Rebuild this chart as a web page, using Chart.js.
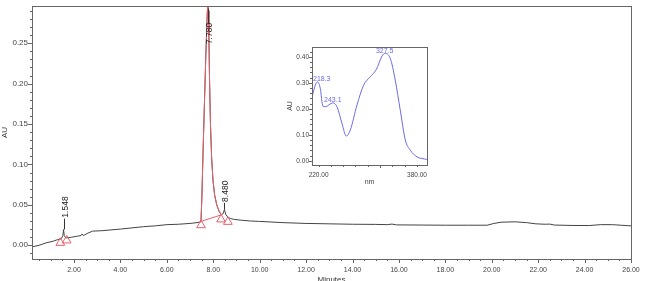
<!DOCTYPE html>
<html>
<head>
<meta charset="utf-8">
<script src="https://cdn.jsdelivr.net/npm/chart.js@4/dist/chart.umd.min.js"></script>
<style>
  body { margin: 0; background: #fff; }
  #wrap { position: relative; width: 646px; height: 281px; overflow: hidden; }
  #mainChart { position: absolute; left: 0; top: 0; }
  #insetChart { position: absolute; left: 280px; top: 40px; }
</style>
</head>
<body>
<div id="wrap">
  <canvas id="mainChart" width="646" height="281"></canvas>
  <canvas id="insetChart" width="160" height="150"></canvas>
</div>
<script>
// chromatogram (minutes, AU)
const timeMin = [0.19, 0.5, 0.8, 1.1, 1.3, 1.45, 1.52, 1.548, 1.58, 1.65, 1.9, 2.1, 2.3, 2.35, 2.4, 2.6, 2.8,
  3.2, 3.6, 4.0, 4.5, 5.0, 5.5, 6.0, 6.5, 7.0, 7.3, 7.47, 7.51, 7.56, 7.62, 7.68, 7.73, 7.77, 7.79, 7.81,
  7.84, 7.88, 7.93, 7.99, 8.06, 8.15, 8.25, 8.34, 8.42, 8.48, 8.54, 8.62, 8.75, 8.9, 9.2, 9.6, 10.0,
  11.0, 12.0, 13.0, 14.0, 15.0, 15.5, 15.7, 15.9, 17.0, 18.0, 19.0, 19.8, 20.1, 20.4, 21.0, 21.5, 21.9,
  22.3, 22.5, 22.7, 23.5, 24.2, 24.7, 25.2, 25.6, 26.0];
const absorb = [-0.002, 0.000, 0.003, 0.005, 0.007, 0.008, 0.012, 0.0195, 0.012, 0.009, 0.010, 0.011, 0.012, 0.014, 0.012, 0.015, 0.0175,
  0.018, 0.019, 0.020, 0.0215, 0.023, 0.024, 0.0255, 0.026, 0.027, 0.028, 0.029, 0.06, 0.115, 0.175, 0.235, 0.278, 0.305, 0.29, 0.262,
  0.205, 0.15, 0.108, 0.08, 0.062, 0.05, 0.042, 0.038, 0.039, 0.044, 0.038, 0.035, 0.033, 0.032, 0.031, 0.030, 0.0295,
  0.028, 0.027, 0.0265, 0.026, 0.0258, 0.0255, 0.0262, 0.0252, 0.025, 0.0248, 0.0248, 0.0248, 0.027, 0.0285, 0.029, 0.028, 0.0265,
  0.026, 0.0262, 0.025, 0.0245, 0.0244, 0.0255, 0.0255, 0.0247, 0.024];

// integrated main peak range
const redFrom = 7.47;
const redTo = 8.42;

// baseline markers (triangles)
const markTime = [1.41, 1.685, 7.474, 8.336, 8.63];
const markAbs = [0.003, 0.006, 0.0248, 0.032, 0.029];
const baseTime = [7.474, 8.336];
const baseAbs = [0.0296, 0.0375];

// peak retention labels: tick line from lineFrom to lineTo, text starts at textAbs and runs upward
const peakLabels = ['1.548', '7.780', '8.480'];
const peakTimes = [1.548, 7.77, 8.46];
const lineFromAbs = [0.0195, 0.2927, 0.044];
const lineToAbs = [0.0329, 0.2744, 0.0524];
const textAbs = [0.0329, 0.2476, 0.0524];

// UV spectrum (nm, AU)
const waveNm = [210.2, 214.6, 218.3, 222.8, 227, 231, 243.1, 249.9, 258, 265, 271.5, 282.4, 293.2, 304, 313.8, 323.1,
  327.5, 336.6, 344.7, 352.8, 361, 369, 380, 396];
const specAu = [0.253, 0.291, 0.304, 0.278, 0.210, 0.208, 0.223, 0.208, 0.144, 0.095, 0.118, 0.214, 0.291, 0.323, 0.351, 0.403,
  0.413, 0.394, 0.31, 0.195, 0.08, 0.041, 0.015, 0.005];
const specLabels = ['218.3', '243.1', '327.5'];
const specPeakNm = [218.3, 243.1, 327.5];
const specPeakAu = [0.304, 0.223, 0.413];

const fontFam = "'Liberation Sans', Arial, sans-serif";
Chart.defaults.font.family = fontFam;
Chart.defaults.color = '#444';

const axisGray = '#666';
const traceGray = '#444';
const peakRed = '#e8606a';
const specBlue = '#6b6be6';

function pts(xs, ys) {
  return xs.map((x, i) => ({ x: x, y: ys[i] }));
}

function range(from, to, step) {
  const out = [];
  for (let v = from; v <= to + step / 1000; v += step) out.push(Math.round(v * 1000) / 1000);
  return out;
}

function isMajor(v, major) {
  const r = v / major;
  return Math.abs(r - Math.round(r)) < 1e-6;
}

// frame round the plot area and major / minor tick marks
const frameTicks = {
  id: 'frameTicks',
  afterDraw(chart, args, opts) {
    const { ctx, chartArea: a, scales } = chart;
    ctx.save();
    ctx.strokeStyle = opts.color;
    ctx.lineWidth = 1;
    ctx.strokeRect(Math.round(a.left) + 0.5, Math.round(a.top) + 0.5,
      Math.round(a.right - a.left), Math.round(a.bottom - a.top));
    ctx.beginPath();
    opts.xTicks.forEach((v) => {
      const px = Math.round(scales.x.getPixelForValue(v)) + 0.5;
      const len = isMajor(v, opts.xMajor) ? opts.majorLen : opts.minorLen;
      ctx.moveTo(px, Math.round(a.bottom));
      ctx.lineTo(px, Math.round(a.bottom) + len);
    });
    opts.yTicks.forEach((v) => {
      const py = Math.round(scales.y.getPixelForValue(v)) + 0.5;
      const len = isMajor(v, opts.yMajor) ? opts.majorLen : opts.minorLen;
      ctx.moveTo(Math.round(a.left), py);
      ctx.lineTo(Math.round(a.left) - len, py);
    });
    ctx.stroke();
    ctx.restore();
  },
};

// vertical retention time labels
const peakText = {
  id: 'peakText',
  afterDatasetsDraw(chart) {
    const { ctx, scales } = chart;
    ctx.save();
    ctx.strokeStyle = '#333';
    ctx.fillStyle = '#222';
    ctx.lineWidth = 1;
    ctx.font = '8.5px ' + fontFam;
    peakLabels.forEach((txt, i) => {
      const x = Math.round(scales.x.getPixelForValue(peakTimes[i])) + 0.5;
      ctx.beginPath();
      ctx.moveTo(x, scales.y.getPixelForValue(lineFromAbs[i]));
      ctx.lineTo(x, scales.y.getPixelForValue(lineToAbs[i]));
      ctx.stroke();
      ctx.save();
      ctx.translate(x + 1, scales.y.getPixelForValue(textAbs[i]) - 1);
      ctx.rotate(-Math.PI / 2);
      ctx.textAlign = 'left';
      ctx.textBaseline = 'middle';
      ctx.fillText(txt, 0, 0);
      ctx.restore();
    });
    ctx.restore();
  },
};

const specText = {
  id: 'specText',
  afterDatasetsDraw(chart) {
    const { ctx, scales, chartArea } = chart;
    ctx.save();
    ctx.fillStyle = specBlue;
    ctx.font = '7px ' + fontFam;
    ctx.textAlign = 'left';
    ctx.textBaseline = 'bottom';
    specLabels.forEach((txt, i) => {
      const w = ctx.measureText(txt).width;
      const x = Math.max(scales.x.getPixelForValue(specPeakNm[i]) - w / 2, chartArea.left + 1);
      const y = scales.y.getPixelForValue(specPeakAu[i]);
      ctx.fillText(txt, x, y + 1);
    });
    ctx.restore();
  },
};

const redT = timeMin.filter((t) => t >= redFrom && t <= redTo);
const redA = absorb.filter((v, i) => timeMin[i] >= redFrom && timeMin[i] <= redTo);

new Chart(document.getElementById('mainChart'), {
  type: 'scatter',
  data: {
    datasets: [
      { data: pts(timeMin, absorb), showLine: true, borderColor: traceGray, borderWidth: 1, pointRadius: 0, order: 3 },
      { data: pts(redT, redA), showLine: true, borderColor: peakRed, borderWidth: 1, pointRadius: 0, order: 2 },
      { data: pts(baseTime, baseAbs), showLine: true, borderColor: peakRed, borderWidth: 1, pointRadius: 0, order: 1 },
      {
        data: pts(markTime, markAbs), showLine: false, pointStyle: 'triangle', pointRadius: 5,
        borderColor: peakRed, backgroundColor: 'rgba(0,0,0,0)', borderWidth: 1, order: 0,
      },
    ],
  },
  options: {
    responsive: false,
    animation: false,
    layout: { padding: { top: 2, right: 15, left: 0, bottom: 0 } },
    plugins: {
      legend: { display: false },
      tooltip: { enabled: false },
      frameTicks: {
        color: axisGray, majorLen: 4, minorLen: 2,
        xTicks: range(0.5, 26, 0.5), xMajor: 2,
        yTicks: range(-0.01, 0.29, 0.01), yMajor: 0.05,
      },
    },
    scales: {
      x: {
        type: 'linear', min: 0.19, max: 26.0,
        afterFit: (s) => { s.height = 22; },
        border: { display: false },
        grid: { display: true, drawOnChartArea: false, tickLength: 4, tickColor: 'rgba(0,0,0,0)' },
        ticks: {
          stepSize: 2, includeBounds: false, autoSkip: false, maxRotation: 0, padding: 3,
          font: { size: 7 }, color: '#444',
          callback: (v) => (isMajor(v, 2) ? v.toFixed(2) : ''),
        },
        title: { display: true, text: 'Minutes', font: { size: 8 }, color: '#333', padding: { top: 0, bottom: -3.5 } },
      },
      y: {
        type: 'linear', min: -0.017, max: 0.296,
        afterFit: (s) => { s.width = 32; },
        border: { display: false },
        grid: { display: true, drawOnChartArea: false, tickLength: 4, tickColor: 'rgba(0,0,0,0)' },
        ticks: {
          stepSize: 0.05, includeBounds: false, autoSkip: false, padding: 0,
          font: { size: 8 }, color: '#444',
          callback: (v) => (isMajor(v, 0.05) ? v.toFixed(2) : ''),
        },
        title: { display: true, text: 'AU', font: { size: 8 }, color: '#333', padding: { top: 0, bottom: 0 } },
      },
    },
  },
  plugins: [frameTicks, peakText],
});

new Chart(document.getElementById('insetChart'), {
  type: 'scatter',
  data: {
    datasets: [
      {
        data: pts(waveNm, specAu), showLine: true, borderColor: specBlue, borderWidth: 1,
        pointRadius: 0, cubicInterpolationMode: 'monotone',
      },
    ],
  },
  options: {
    responsive: false,
    animation: false,
    layout: { padding: { top: 7, right: 13, left: 0, bottom: 0 } },
    plugins: {
      legend: { display: false },
      tooltip: { enabled: false },
      frameTicks: {
        color: axisGray, majorLen: 3, minorLen: 2,
        xTicks: range(220, 380, 20), xMajor: 160,
        yTicks: range(0, 0.42, 0.02), yMajor: 0.1,
      },
    },
    scales: {
      x: {
        type: 'linear', min: 209.3, max: 396.3,
        afterFit: (s) => { s.height = 25; },
        afterBuildTicks: (s) => { s.ticks = [{ value: 220 }, { value: 380 }]; },
        border: { display: false },
        grid: { display: true, drawOnChartArea: false, tickLength: 3, tickColor: 'rgba(0,0,0,0)' },
        ticks: {
          autoSkip: false, maxRotation: 0, padding: 3, font: { size: 6.5 }, color: '#444',
          callback: (v) => v.toFixed(2),
        },
        title: { display: true, text: 'nm', font: { size: 7 }, color: '#444', padding: { top: 0, bottom: 4 } },
      },
      y: {
        type: 'linear', min: -0.0165, max: 0.438,
        afterFit: (s) => { s.width = 32; },
        border: { display: false },
        grid: { display: true, drawOnChartArea: false, tickLength: 3, tickColor: 'rgba(0,0,0,0)' },
        ticks: {
          stepSize: 0.1, includeBounds: false, autoSkip: false, padding: 0, font: { size: 6.5 }, color: '#444',
          callback: (v) => v.toFixed(2),
        },
        title: { display: true, text: 'AU', font: { size: 7 }, color: '#444', padding: { top: 6, bottom: 0 } },
      },
    },
  },
  plugins: [frameTicks, specText],
});
</script>
</body>
</html>
